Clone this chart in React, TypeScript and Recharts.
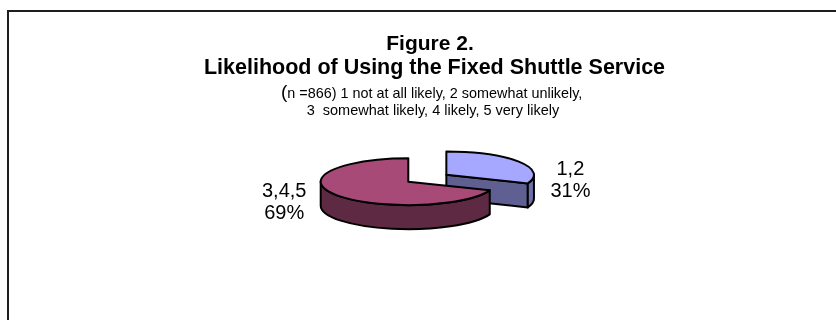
import React from 'react';
import { PieChart, Pie, Tooltip } from 'recharts';

// ---- data ----
const categories = ['1,2', '3,4,5'];
const values = [31, 69];
const sliceColors = ['#A6A8FF', '#A84A78'];
const explodedCategories = ['1,2'];
const titleLines = ['Figure 2.', 'Likelihood of Using the Fixed Shuttle Service'];
const noteParen = '(';
const noteLine1 = 'n =866) 1 not at all likely, 2 somewhat unlikely,';
const noteLine2 = '3  somewhat likely, 4 likely, 5 very likely';

const data = categories.map((name, i) => ({ name, value: values[i], fill: sliceColors[i] }));

// ---- geometry / style ----
const FONT = 'Liberation Sans, Arial, sans-serif';
const RX = 87.6;
const RY = 23.4;
const DEPTH = 24;
const EXPLODE = 46;
const LABEL_R = 150;
const LABEL_RY = 13.4;
const RAD = Math.PI / 180;

function shade(hex: string, f: number) {
  const n = parseInt(hex.slice(1), 16);
  const r = Math.round(((n >> 16) & 255) * f);
  const g = Math.round(((n >> 8) & 255) * f);
  const b = Math.round((n & 255) * f);
  return `rgb(${r},${g},${b})`;
}

function sliceCenter(cx: number, cy: number, mid: number, name: string) {
  const ex = explodedCategories.includes(name) ? EXPLODE : 0;
  return [cx + ex * Math.cos(mid * RAD), cy - ex * Math.sin(mid * RAD) * (RY / RX)];
}

function Slice3D(props: any) {
  const { cx, cy, startAngle, endAngle } = props;
  const name = props.name ?? props.payload?.name;
  const idx = categories.indexOf(name);
  const fill = sliceColors[idx >= 0 ? idx : 0];
  const mid = (startAngle + endAngle) / 2;
  const [Cx, Cy] = sliceCenter(cx, cy, mid, name);
  const P = (a: number, d = 0) => [Cx + RX * Math.cos(a * RAD), Cy - RY * Math.sin(a * RAD) + d];
  const hi = Math.max(startAngle, endAngle);
  const lo = Math.min(startAngle, endAngle);
  const common = { stroke: '#000', strokeWidth: 2, strokeLinejoin: 'round' as const };
  const parts: any[] = [];
  // cut faces
  ([[hi, hi + 90], [lo, lo - 90]] as number[][]).forEach(([a, nrm], k) => {
    if (Math.sin(nrm * RAD) < -0.01) {
      const p = P(a);
      const q = P(a, DEPTH);
      parts.push(
        <path key={'cut' + k} d={`M${Cx},${Cy}L${p[0]},${p[1]}L${q[0]},${q[1]}L${Cx},${Cy + DEPTH}Z`} fill={shade(fill, 0.57)} {...common} />
      );
    }
  });
  // outer rim (front half only)
  for (let k = -2; k <= 1; k++) {
    const i1 = Math.max(lo, -180 + 360 * k);
    const i2 = Math.min(hi, 360 * k);
    if (i2 - i1 > 0.01) {
      const a = P(i2);
      const b = P(i1);
      const c = P(i1, DEPTH);
      const d = P(i2, DEPTH);
      parts.push(
        <path
          key={'rim' + k}
          d={`M${a[0]},${a[1]}A${RX},${RY} 0 0 1 ${b[0]},${b[1]}L${c[0]},${c[1]}A${RX},${RY} 0 0 0 ${d[0]},${d[1]}Z`}
          fill={shade(fill, idx === 0 ? 0.66 : 0.56)}
          {...common}
        />
      );
    }
  }
  // top face
  const s = P(hi);
  const e = P(lo);
  const large = hi - lo > 180 ? 1 : 0;
  parts.push(
    <path key="top" d={`M${Cx},${Cy}L${s[0]},${s[1]}A${RX},${RY} 0 ${large} 1 ${e[0]},${e[1]}Z`} fill={fill} {...common} />
  );
  return <g>{parts}</g>;
}

function renderLabel(props: any) {
  const { cx, cy, midAngle, index } = props;
  const name = categories[index];
  const [Cx, Cy] = sliceCenter(cx, cy, midAngle, name);
  const lx = Cx + LABEL_R * Math.cos(midAngle * RAD);
  const centerY = Cy + DEPTH / 2 - LABEL_RY * Math.sin(midAngle * RAD);
  const b1 = centerY - 3.85;
  return (
    <text key={'lbl' + index} x={lx} y={b1} textAnchor="middle" fontSize={20} fontFamily={FONT} fill="#000">
      <tspan x={lx} y={b1}>{name}</tspan>
      <tspan x={lx} y={b1 + 21.7}>{values[index]}%</tspan>
    </text>
  );
}

export default function App() {
  return (
    <div style={{ width: 820, height: 300 }}>
      <div
        style={{
          position: 'fixed',
          left: 7,
          top: 10,
          width: 829,
          height: 310,
          boxSizing: 'border-box',
          borderLeft: '2px solid #1e1e1e',
          borderTop: '2px solid #1e1e1e',
        }}
      />
      <div style={{ position: 'fixed', left: 0, top: 0 }}>
        <PieChart width={836} height={320} margin={{ top: 0, right: 0, bottom: 0, left: 0 }}>
          <Pie
            data={data}
            dataKey="value"
            nameKey="name"
            cx={408.3}
            cy={181.7}
            outerRadius={RX}
            startAngle={90}
            endAngle={-270}
            isAnimationActive={false}
            shape={Slice3D as any}
            activeShape={Slice3D as any}
            inactiveShape={Slice3D as any}
            label={renderLabel}
            labelLine={false}
          />
          <Tooltip defaultIndex={0} content={() => null} cursor={false} />
        </PieChart>
      </div>
      <svg width={836} height={320} style={{ position: 'fixed', left: 0, top: 0, pointerEvents: 'none' }}>
        <text x={430} y={50} textAnchor="middle" fontFamily={FONT} fontWeight="bold" fontSize={21} fill="#000">
          {titleLines[0]}
        </text>
        <text x={434.5} y={74} textAnchor="middle" fontFamily={FONT} fontWeight="bold" fontSize={21.5} fill="#000">
          {titleLines[1]}
        </text>
        <text x={281} y={97.5} fontFamily={FONT} fill="#000">
          <tspan fontSize={19}>{noteParen}</tspan>
          <tspan fontSize={14.4}>{noteLine1}</tspan>
        </text>
        <text x={306.7} y={114.8} fontFamily={FONT} fontSize={14.5} fill="#000" style={{ whiteSpace: 'pre' }}>
          {noteLine2}
        </text>
      </svg>
    </div>
  );
}
